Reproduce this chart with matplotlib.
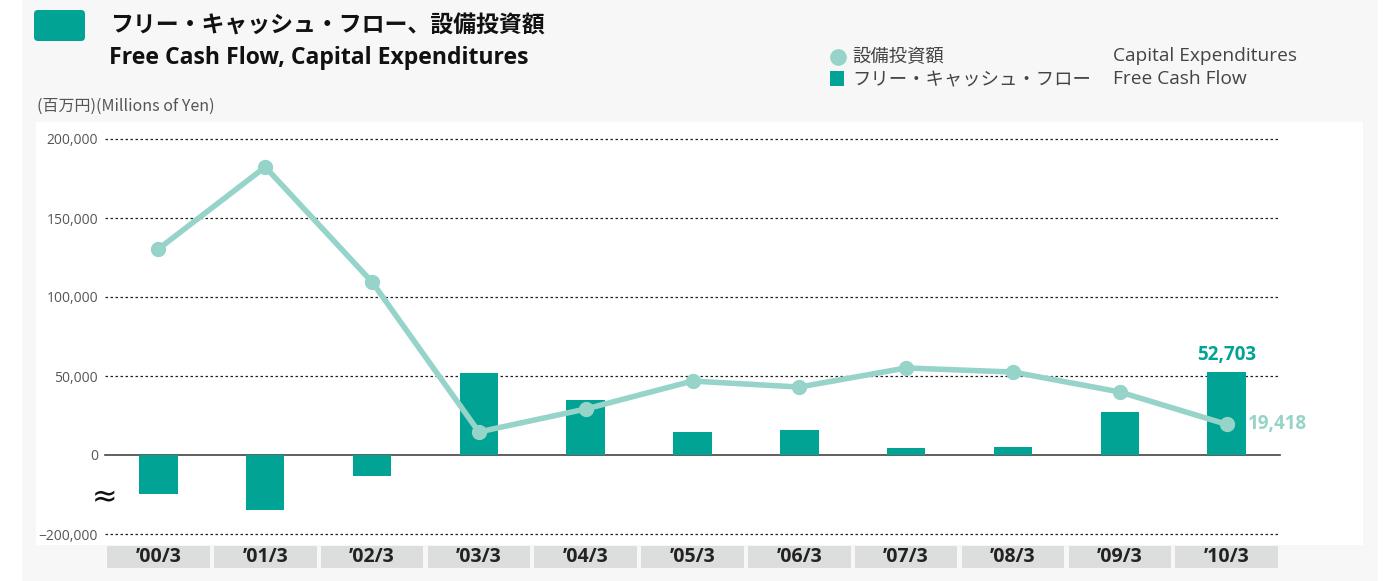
import matplotlib
matplotlib.use('Agg')
from matplotlib import pyplot as plt
from matplotlib.patches import Rectangle, FancyBboxPatch
import numpy as np

plt.rcParams['font.family'] = ['Open Sans', 'Noto Sans CJK JP', 'DejaVu Sans']

# data (negative FCF values are read in the compressed scale below zero)
years = ['’00/3', '’01/3', '’02/3', '’03/3', '’04/3', '’05/3',
         '’06/3', '’07/3', '’08/3', '’09/3', '’10/3']
capex = [130400, 182300, 109500, 14600, 29100, 46800,
         43000, 55100, 52500, 39900, 19418]
fcf = [-24500, -34600, -13100, 52100, 35000, 14600,
       15800, 4400, 5300, 27400, 52703]
ytick_vals = [-50000, 0, 50000, 100000, 150000, 200000]
ytick_labels = ['−200,000', '0', '50,000', '100,000', '150,000', '200,000']

TEAL = '#00a394'
LIGHT = '#96d4c9'
W, H = 1386, 581

fig = plt.figure(figsize=(W / 100, H / 100), dpi=100)
fig.patch.set_facecolor('white')

def px(x0, y0, x1, y1):
    # pixel box (top-left origin) -> figure fraction [l, b, w, h]
    return [x0 / W, 1 - y1 / H, (x1 - x0) / W, (y1 - y0) / H]

# panels
bg = fig.add_axes([0, 0, 1, 1])
bg.set_xlim(0, W)
bg.set_ylim(H, 0)
bg.axis('off')
bg.add_patch(FancyBboxPatch((22, -20), 1356, 620, boxstyle='round,pad=0,rounding_size=14',
                            fc='#f7f7f7', ec='none'))
bg.add_patch(Rectangle((36, 122), 1327, 423, fc='white', ec='none'))
bg.add_patch(FancyBboxPatch((34, 10), 51, 31, boxstyle='round,pad=0,rounding_size=4',
                            fc=TEAL, ec='none'))

# titles
bg.text(110, 26, 'フリー・キャッシュ・フロー、設備投資額', fontsize=16.5, fontweight='bold',
        family=['Noto Sans CJK JP'], color='#111111', va='center', ha='left')
bg.text(109, 58, 'Free Cash Flow, Capital Expenditures', fontsize=16.6, fontweight='bold',
        color='#111111', va='center', ha='left')
bg.text(37, 106, '(百万円)(Millions of Yen)', fontsize=11.5, color='#555555',
        family=['Noto Sans CJK JP'], va='center', ha='left')

# legend
bg.plot([838], [57], 'o', ms=11, color=LIGHT)
bg.add_patch(Rectangle((830, 71), 14, 15, fc=TEAL, ec='none'))
bg.text(852, 57, '設備投資額', fontsize=13.2, color='#444444',
        family=['Noto Sans CJK JP'], va='center', ha='left')
bg.text(852, 80, 'フリー・キャッシュ・フロー', fontsize=13.2, color='#444444',
        family=['Noto Sans CJK JP'], va='center', ha='left')
bg.text(1113, 56, 'Capital Expenditures', fontsize=13.8, color='#444444', va='center', ha='left')
bg.text(1113, 79, 'Free Cash Flow', fontsize=13.8, color='#444444', va='center', ha='left')

# main chart
ax = fig.add_axes(px(105, 139, 1280, 534))
ax.set_facecolor('none')
x = np.arange(len(years))
ax.set_xlim(-0.5, len(years) - 0.5)
ax.set_ylim(-50000, 200000)

for v in ytick_vals:
    if v == 0:
        ax.axhline(0, color='#444444', lw=1.2, zorder=1, clip_on=False)
    else:
        ax.axhline(v, color='#222222', lw=0.9, ls=(0, (2, 2)), zorder=1, clip_on=False)

ax.bar(x, fcf, width=0.36, color=TEAL, zorder=2)
ax.plot(x, capex, '-o', color=LIGHT, lw=4, ms=10, zorder=3, clip_on=False)

ax.set_yticks(ytick_vals)
ax.set_yticklabels(ytick_labels, fontsize=10, color='#555555')
ax.tick_params(axis='y', length=0, pad=5)
ax.set_xticks([])
for s in ax.spines.values():
    s.set_visible(False)

# category boxes
tr = ax.get_xaxis_transform()
for i, lab in enumerate(years):
    ax.add_patch(Rectangle((i - 0.5 + 0.02, -0.087), 0.96, 0.057, transform=tr,
                           fc='#dcdddd', ec='none', clip_on=False))
    ax.text(i, -0.058, lab, transform=tr, ha='center', va='center', fontsize=14,
            fontweight='bold', color='#222222')

# break mark
ax.text(-0.5, -27000, '≈', fontsize=22, ha='center', va='center', color='#111111',
        family=['DejaVu Sans'])

# value labels
ax.annotate(f'{fcf[-1]:,}', (x[-1], fcf[-1]), xytext=(0, 5), textcoords='offset points',
            ha='center', va='bottom', fontsize=13.5, fontweight='bold', color=TEAL)
ax.annotate(f'{capex[-1]:,}', (x[-1], capex[-1]), xytext=(15, 0), textcoords='offset points',
            ha='left', va='center', fontsize=13.5, fontweight='bold', color=LIGHT)

fig.savefig('out.png', dpi=100, facecolor=fig.get_facecolor())
